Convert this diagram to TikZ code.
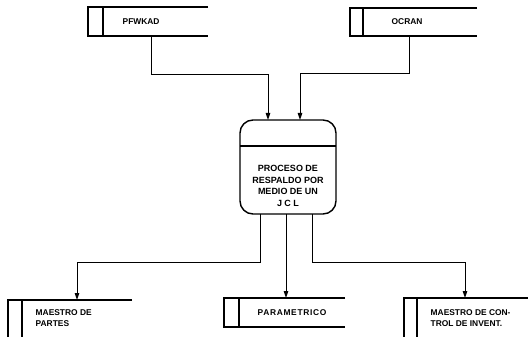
\documentclass[tikz,border=0pt]{standalone}
\usepackage{fontspec}
\setmainfont{Liberation Sans}
\usetikzlibrary{arrows.meta}
\begin{document}
\begin{tikzpicture}[x=1pt,y=-1pt,
  line width=1.4pt,
  lbl/.style={font=\bfseries\fontsize{8.4}{10.5}\selectfont, inner sep=0pt, anchor=west, align=left},
  flow/.style={line width=1pt, -{Triangle[width=4.5pt,length=7pt]}},
  proc/.style={draw, rounded corners=13pt, minimum width=96pt, minimum height=94pt, inner sep=0pt}]
\useasboundingbox (0,0) rectangle (528,337);
% top stores
\coordinate (pfA) at (88,7); \coordinate (pfB) at (88,36);
\draw (208,7) -- (pfA) -- (pfB) -- (208,36);
\draw (103,7) -- (103,36);
\node[lbl] (pf) at (122,21.5) {PFWKAD};
\coordinate (ocA) at (350,8); \coordinate (ocB) at (350,36);
\draw (477,8) -- (ocA) -- (ocB) -- (477,36);
\draw (363,8) -- (363,36);
\node[lbl] (oc) at (391,22) {OCRAN};
% process
\node[proc] (pr) at (288,167) {};
\draw (240,146) -- (336,146);
\node[font=\bfseries\fontsize{9}{11.7}\selectfont, align=center, inner sep=0pt] (prt) at (288,186) {PROCESO DE\\RESPALDO POR\\MEDIO DE UN\\J C L};
% bottom stores
\draw (132,300) -- (8,300) -- (8,337);
\draw (22,300) -- (22,337);
\node[lbl] (mp) at (35,318) {MAESTRO DE\\PARTES};
\draw (345,298) -- (224,298) -- (224,327) -- (345,327);
\draw (239,298) -- (239,327);
\node[lbl, font=\bfseries\fontsize{8.4}{10.5}\selectfont\addfontfeature{LetterSpace=8}] (pa) at (257,313) {PARAMETRICO};
\draw (528,298) -- (404,298) -- (404,337);
\draw (417,298) -- (417,337);
\node[lbl] (mc) at (430,318) {MAESTRO DE CON-\\TROL DE INVENT.};
% connectors
\coordinate (s1) at (151,36);
\coordinate (s2) at (409,36);
\draw[flow] (s1) -- (151,75) -| (268,120);
\draw[flow] (s2) -- (409,74) -| (300,120);
\draw[flow] (260,214) -- (260,262) -| (77,300);
\draw[flow] (286,214) -- (286,298);
\draw[flow] (312,214) -- (312,262) -| (465,298);
\end{tikzpicture}
\end{document}
